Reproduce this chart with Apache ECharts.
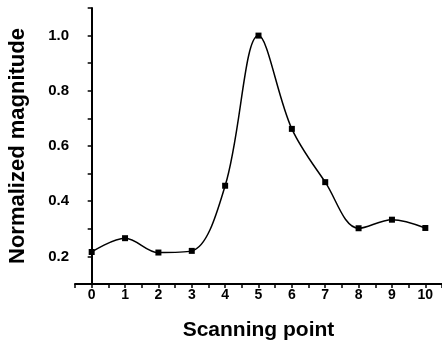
<!DOCTYPE html>
<html><head><meta charset="utf-8">
<script src="https://cdn.jsdelivr.net/npm/echarts@6/dist/echarts.min.js"></script>
<style>html,body{margin:0;padding:0;background:#fff}#c{width:442px;height:343px}</style>
</head><body><div id="c"></div>
<script>
const xValues = [0,1,2,3,4,5,6,7,8,9,10];
const yValues = [0.216,0.266,0.214,0.220,0.456,1.000,0.662,0.469,0.302,0.333,0.303];
const xTicks = [0,1,2,3,4,5,6,7,8,9,10];
const yTicks = [0.2,0.4,0.6,0.8,1.0];
const xName = 'Scanning point';
const yName = 'Normalized magnitude';

const chart = echarts.init(document.getElementById('c'));
const font = 'Liberation Sans, Arial, sans-serif';
chart.setOption({
  animation:false,
  grid:{left:75,right:0,top:8,bottom:59,containLabel:false,outerBoundsMode:'none'},
  xAxis:{type:'value',min:-0.5,max:10.5,interval:0.5,
    name:xName,nameLocation:'middle',nameGap:36,
    nameTextStyle:{fontFamily:font,fontWeight:'bold',fontSize:21,color:'#000'},
    axisLine:{lineStyle:{color:'#000',width:2}},
    axisTick:{show:true,length:4,lineStyle:{color:'#000',width:1.5}},
    splitLine:{show:false},
    axisLabel:{margin:4,fontFamily:font,fontWeight:'bold',fontSize:14,color:'#000',
      formatter:v=>xTicks.includes(v)?String(v):''}
  },
  yAxis:{type:'value',min:0.1,max:1.1,interval:0.1,
    name:yName,nameLocation:'middle',nameGap:46,
    nameTextStyle:{fontFamily:font,fontWeight:'bold',fontSize:22,color:'#000'},
    axisLine:{show:true,lineStyle:{color:'#000',width:2}},
    axisTick:{show:true,length:4,lineStyle:{color:'#000',width:1.5}},
    splitLine:{show:false},
    axisLabel:{margin:6,fontFamily:font,fontWeight:'bold',fontSize:15,color:'#000',
      formatter:v=>{const r=Math.round(v*10)/10;return yTicks.some(t=>Math.abs(t-r)<1e-9)&&Math.abs(v-r)<1e-6?r.toFixed(1):'';}}
  },
  series:[{type:'line',data:xValues.map((x,i)=>[x,yValues[i]]),smooth:0.35,
    symbol:'rect',symbolSize:6,
    itemStyle:{color:'#000'},lineStyle:{color:'#000',width:1.5}}]
});
</script></body></html>
